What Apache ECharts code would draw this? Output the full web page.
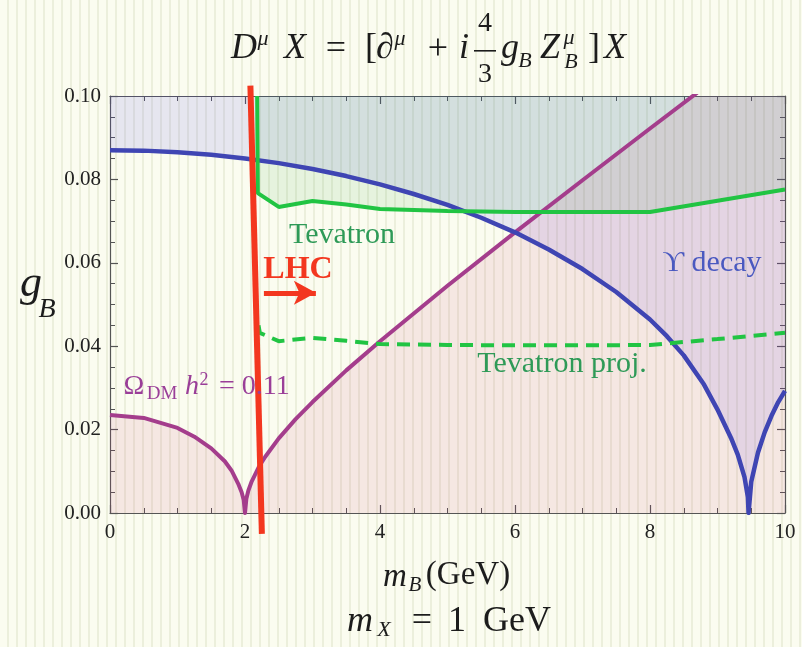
<!DOCTYPE html>
<html>
<head>
<meta charset="utf-8">
<script src="https://cdn.jsdelivr.net/npm/echarts@6/dist/echarts.min.js"></script>
<style>
    html, body {
        margin: 0;
        padding: 0;
        background: repeating-linear-gradient(90deg, #fbfcf0 0px, #fbfcf0 7px, #ecefdc 7px, #ecefdc 9px);
    }
    #chart { width: 802px; height: 647px; }
</style>
</head>
<body>
<div id="chart"></div>
<script>
    // Upsilon decay bound
    const blueX = [0, 0.5, 1, 1.5, 2, 2.5, 3, 3.5, 4, 4.5, 5, 5.5, 6, 6.5, 7, 7.5, 8, 8.25, 8.5, 8.8, 9.0, 9.2, 9.3, 9.4, 9.45, 9.46, 9.5, 9.6, 9.7, 9.8, 9.9, 10];
    const blueY = [0.0870, 0.0869, 0.0865, 0.0859, 0.0850, 0.0839, 0.0825, 0.0808, 0.0788, 0.0765, 0.0739, 0.0708, 0.0673, 0.0632, 0.0585, 0.0530, 0.0464, 0.0424, 0.0378, 0.0308, 0.0248, 0.0180, 0.0140, 0.0086, 0.0038, 0.0, 0.0075, 0.0145, 0.0194, 0.0233, 0.0266, 0.0293];

    // relic density curve, Omega h^2 = 0.11
    const relicX = [0, 0.5, 1, 1.25, 1.5, 1.7, 1.8, 1.9, 1.95, 1.98, 2.0, 2.02, 2.05, 2.1, 2.2, 2.3, 2.5, 2.75, 3, 3.5, 4, 5, 6, 7, 8, 8.7];
    const relicY = [0.0235, 0.0228, 0.0204, 0.0183, 0.0155, 0.0124, 0.0102, 0.0070, 0.0050, 0.0032, 0.0, 0.0034, 0.0054, 0.0076, 0.0109, 0.0135, 0.0179, 0.0225, 0.0266, 0.0342, 0.0412, 0.0545, 0.0673, 0.0798, 0.0922, 0.1008];

    // Tevatron bound (solid)
    const tevX = [2.18, 2.19, 2.5, 3.0, 3.5, 4.0, 5.0, 6.0, 7.0, 8.0, 9.0, 10.0];
    const tevY = [0.1000, 0.0767, 0.0734, 0.0748, 0.0740, 0.0729, 0.0724, 0.0722, 0.0722, 0.0722, 0.0749, 0.0776];

    // Tevatron projection (dashed)
    const projX = [2.20, 2.22, 2.5, 3.0, 3.5, 4.0, 5.0, 6.0, 7.0, 8.0, 9.0, 10.0];
    const projY = [0.0450, 0.0432, 0.0412, 0.0420, 0.0413, 0.0405, 0.0403, 0.0402, 0.0402, 0.0403, 0.0417, 0.0432];

    // LHC line, runs a bit past the frame
    const lhcX = [2.08, 2.25];
    const lhcY = [0.1025, -0.005];
    const lhcArrowX = [2.28, 3.05];
    const lhcArrowY = 0.0528;

    const xTicks = [0, 2, 4, 6, 8, 10];
    const yTicks = [0.00, 0.02, 0.04, 0.06, 0.08, 0.10];

    const zip = (xs, ys) => xs.map((x, i) => [x, ys[i]]);

    const serif = '"Liberation Serif", "DejaVu Serif", serif';
    const c = {
        blue: '#3f45b3',
        relic: '#a43d8c',
        green: '#21c443',
        red: '#f3371f',
        greenText: '#2e9a57',
        blueText: '#4a59c0',
        relicText: '#9a3e98',
        ink: '#1c1c1c'
    };

    // small text piece for the hand set formulas
    function txt(s, x, y, size, color, opt) {
        opt = opt || {};
        return {
            type: 'text', x: x, y: y, silent: true, z: 100,
            style: {
                text: s,
                fill: color,
                font: (opt.italic ? 'italic ' : '') + (opt.bold ? 'bold ' : '') + size + 'px ' + serif,
                align: opt.align || 'center',
                verticalAlign: 'middle'
            }
        };
    }

    let myChart = echarts.init(document.getElementById('chart'), null, {renderer: 'canvas'});

    const axisLine = {show: true, onZero: false, lineStyle: {color: '#555', width: 1.2}};
    const axisTick = {show: true, inside: true, length: 8, lineStyle: {color: '#555', width: 1.2}};
    const minorTick = {show: true, splitNumber: 4, length: 5, lineStyle: {color: '#555', width: 1}};
    const tickFont = {fontFamily: serif, fontSize: 21, color: '#222'};

    let option = {
        animation: false,
        backgroundColor: 'transparent',
        grid: {left: 110, right: 17, top: 96, bottom: 134},
        xAxis: [
            {
                type: 'value', min: 0, max: 10, interval: 2, position: 'bottom',
                axisLine: axisLine, axisTick: axisTick, minorTick: minorTick,
                splitLine: {show: false},
                axisLabel: Object.assign({margin: 9, formatter: v => xTicks.includes(v) ? String(v) : ''}, tickFont)
            },
            {
                type: 'value', min: 0, max: 10, interval: 2, position: 'top',
                axisLine: axisLine, axisTick: axisTick, minorTick: minorTick,
                splitLine: {show: false}, axisLabel: {show: false}
            }
        ],
        yAxis: [
            {
                type: 'value', min: 0, max: 0.1, interval: 0.02, position: 'left',
                axisLine: axisLine, axisTick: axisTick, minorTick: minorTick,
                splitLine: {show: false},
                axisLabel: Object.assign({margin: 9, formatter: v => {
                    const t = yTicks.find(y => Math.abs(y - v) < 1e-9);
                    return t === undefined ? '' : t.toFixed(2);
                }}, tickFont)
            },
            {
                type: 'value', min: 0, max: 0.1, interval: 0.02, position: 'right',
                axisLine: axisLine, axisTick: axisTick, minorTick: minorTick,
                splitLine: {show: false}, axisLabel: {show: false}
            }
        ],
        series: [
            // shaded regions first
            {
                type: 'line', data: zip(blueX, blueY), showSymbol: false, silent: true, z: 1,
                lineStyle: {width: 0}, areaStyle: {origin: 'end', color: 'rgba(80,70,240,0.17)'}
            },
            {
                type: 'line', data: zip(relicX, relicY).concat([[10, 0.1008]]), showSymbol: false, silent: true, z: 1,
                lineStyle: {width: 0}, areaStyle: {origin: 'start', color: 'rgba(200,60,110,0.15)'}
            },
            {
                type: 'line', data: zip(tevX, tevY), showSymbol: false, silent: true, z: 1,
                lineStyle: {width: 0}, areaStyle: {origin: 'end', color: 'rgba(26,159,47,0.13)'}
            },
            // curves
            {
                type: 'line', data: zip(relicX, relicY), showSymbol: false, silent: true, z: 3,
                lineStyle: {color: c.relic, width: 4, join: 'round'}
            },
            {
                type: 'line', data: zip(blueX, blueY), showSymbol: false, silent: true, z: 3,
                lineStyle: {color: c.blue, width: 4.5, join: 'round'}
            },
            {
                type: 'line', data: zip(tevX, tevY), showSymbol: false, silent: true, z: 3,
                lineStyle: {color: c.green, width: 4}
            },
            {
                type: 'line', data: zip(projX, projY), showSymbol: false, silent: true, z: 3,
                lineStyle: {color: c.green, width: 4, type: [13, 8]}
            },
            {
                type: 'line', data: zip(lhcX, lhcY), showSymbol: false, silent: true, z: 4, clip: false,
                lineStyle: {color: c.red, width: 6},
                markLine: {
                    silent: true, animation: false,
                    symbol: ['none', 'arrow'], symbolSize: [18, 22],
                    label: {show: false},
                    lineStyle: {color: c.red, width: 5, type: 'solid'},
                    data: [[{coord: [lhcArrowX[0], lhcArrowY]}, {coord: [lhcArrowX[1], lhcArrowY]}]]
                }
            }
        ],
        graphic: [
            // title: D^mu X = [d^mu + i 4/3 g_B Z^mu_B] X
            txt('D', 244, 49, 36, c.ink, {italic: true}),
            txt('μ', 263, 39, 22, c.ink, {italic: true}),
            txt('X', 295, 49, 36, c.ink, {italic: true}),
            txt('=', 336, 50, 36, c.ink),
            txt('[', 371, 49, 36, c.ink),
            txt('∂', 385, 49, 36, c.ink),
            txt('μ', 400, 39, 22, c.ink, {italic: true}),
            txt('+', 438, 50, 36, c.ink),
            txt('i', 464, 49, 36, c.ink, {italic: true}),
            txt('4', 485, 24, 28, c.ink),
            {type: 'rect', silent: true, z: 100, shape: {x: 474, y: 50, width: 22, height: 1.6}, style: {fill: c.ink}},
            txt('3', 485, 75, 28, c.ink),
            txt('g', 510, 49, 36, c.ink, {italic: true}),
            txt('B', 525, 61, 22, c.ink, {italic: true}),
            txt('Z', 550, 49, 36, c.ink, {italic: true}),
            txt('μ', 569, 38, 22, c.ink, {italic: true}),
            txt('B', 571, 62, 22, c.ink, {italic: true}),
            txt(']', 594, 49, 36, c.ink),
            txt('X', 615, 49, 36, c.ink, {italic: true}),

            // y axis name g_B
            txt('g', 31, 284, 44, c.ink, {italic: true}),
            txt('B', 47, 310, 28, c.ink, {italic: true}),

            // x axis name m_B(GeV)
            txt('m', 395, 577, 33, c.ink, {italic: true}),
            txt('B', 415, 585, 21, c.ink, {italic: true}),
            txt('(GeV)', 468, 575, 33, c.ink),

            // m_X = 1 GeV
            txt('m', 360, 622, 36, c.ink, {italic: true}),
            txt('X', 384, 630, 22, c.ink, {italic: true}),
            txt('=', 422, 622, 36, c.ink),
            txt('1', 457, 622, 36, c.ink),
            txt('GeV', 517, 622, 36, c.ink),

            // annotations
            txt('Tevatron', 342, 235, 30, c.greenText),
            txt('Tevatron proj.', 562, 364, 30, c.greenText),
            txt('LHC', 298, 270, 32, c.red, {bold: true}),
            txt('ϒ decay', 712, 263, 30, c.blueText),
            txt('Ω', 134, 387, 28, c.relicText),
            txt('DM', 162, 394, 19, c.relicText),
            txt('h', 192, 387, 28, c.relicText, {italic: true}),
            txt('2', 204, 380, 18, c.relicText),
            txt('= 0.11', 219, 387, 28, c.relicText, {align: 'left'})
        ]
    };

    myChart.setOption(option);
</script>
</body>
</html>
